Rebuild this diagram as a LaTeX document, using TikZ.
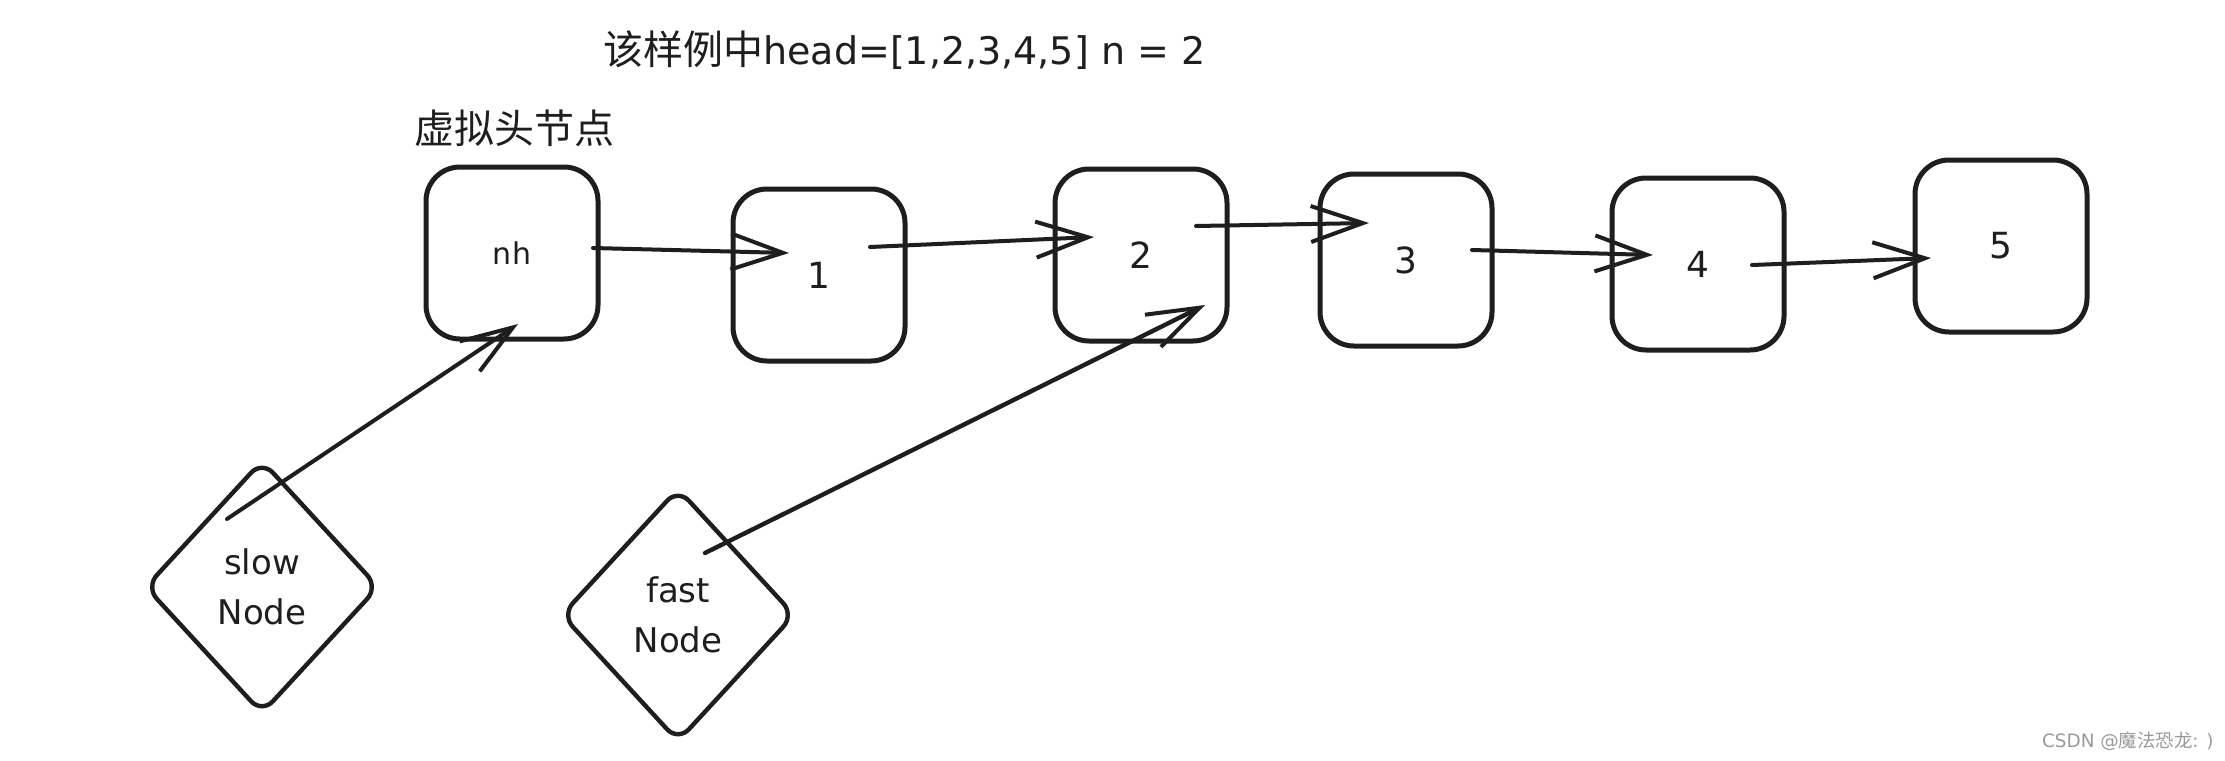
\documentclass[tikz,border=0pt]{standalone}
\usepackage{fontspec}
\setmainfont{DejaVu Sans}
\newfontfamily\cjk{Noto Sans CJK SC}
\usetikzlibrary{arrows.meta,shapes.geometric,calc}
\definecolor{ink}{HTML}{1E1E1E}
\definecolor{wmgray}{HTML}{9A9A9A}
\begin{document}
\begin{tikzpicture}[x=0.5pt,y=-0.5pt,
  listbox/.style={draw=ink,line width=2.5pt,rounded corners=17pt,minimum width=86pt,minimum height=86pt,inner sep=0pt,text=ink,font=\fontsize{18}{22}\selectfont},
  ptr/.style={draw=ink,line width=2.2pt,diamond,rounded corners=8pt,minimum width=117pt,minimum height=127pt,inner sep=0pt,align=center,text=ink,font=\fontsize{17}{25}\selectfont},
  link/.style={draw=ink,line width=2pt,line cap=round,line join=round,-{Straight Barb[length=26pt,width=18pt,line width=2pt]}},
  titletext/.style={inner sep=0pt,anchor=west,text=ink,font=\fontsize{20}{24}\selectfont},
  wmark/.style={inner sep=0pt,anchor=east,text=wmgray,font=\fontsize{9.2}{11}\selectfont}
]
\fill[white] (0,0) rectangle (2225,760);
\useasboundingbox (0,0) rectangle (2225,760);

\node[titletext] (title) at (603,50) {{\cjk 该样例中}{\fontsize{19}{24}\selectfont head=[1,2,3,4,5] n = 2}};
\node[titletext] (dummy) at (414,128) {\cjk 虚拟头节点};

\node[listbox,font=\fontsize{15}{18}\selectfont] (nh) at (512,253) {nh};
\node[listbox] (n1) at (819,275) {1};
\node[listbox] (n2) at (1141,255) {2};
\node[listbox] (n3) at (1406,260) {3};
\node[listbox] (n4) at (1698,264) {4};
\node[listbox] (n5) at (2001,246) {5};

\node[ptr] (slow) at (262,587) {slow\\Node};
\node[ptr] (fast) at (678,615) {fast\\Node};

\draw[link] ($(nh.center)+(81,-5)$) -- ($(n1.center)+(-30,-22)$);
\draw[link] ($(n1.center)+(51,-28)$) -- ($(n2.center)+(-47,-18)$);
\draw[link] ($(n2.center)+(55,-29)$) -- ($(n3.center)+(-37,-37)$);
\draw[link] ($(n3.center)+(66,-10)$) -- ($(n4.center)+(-45,-9)$);
\draw[link] ($(n4.center)+(54,1)$) -- ($(n5.center)+(-70,12)$);
\draw[link] ($(slow.center)+(-35,-68)$) -- ($(nh.center)+(6,71)$);
\draw[link,line width=2.2pt] ($(fast.center)+(27,-62)$) -- ($(n2.center)+(64,50)$);

\node[wmark] (wm) at (2214,741) {CSDN @{\cjk 魔法恐龙}: )};
\end{tikzpicture}
\end{document}
